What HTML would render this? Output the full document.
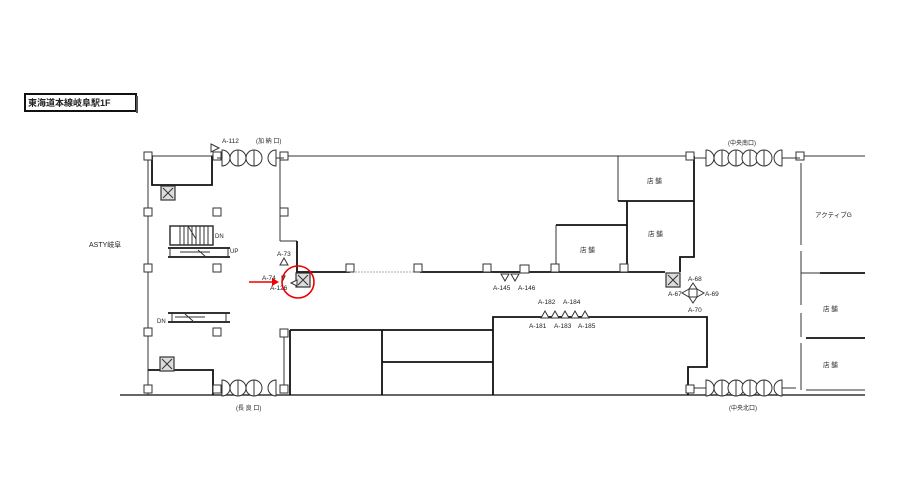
<!DOCTYPE html>
<html><head><meta charset="utf-8"><style>
html,body{margin:0;padding:0;background:#fff;}
svg{display:block;}
text{font-family:"Liberation Sans","Noto Sans CJK JP",sans-serif;fill:#222;}
</style></head><body>
<svg width="919" height="491" viewBox="0 0 919 491" xmlns="http://www.w3.org/2000/svg">
<defs>
<g id="sq"><rect x="-4" y="-4" width="8" height="8" fill="#fff" stroke="#333" stroke-width="1"/></g>
<g id="el"><rect x="-7" y="-7" width="14" height="14" fill="#ddd" stroke="#333" stroke-width="1.2"/><path d="M-5,-5L5,5M5,-5L-5,5" stroke="#333"/></g>
<g id="c"><circle r="8" fill="#fff" stroke="#333"/><line x1="0" y1="-8" x2="0" y2="8" stroke="#333"/></g>
</defs>
<rect x="25" y="94" width="111" height="17" fill="#fff" stroke="#111" stroke-width="2"/>
<line x1="137" y1="96" x2="137" y2="113" stroke="#555" stroke-width="2"/>
<text x="28" y="106" font-size="9" font-weight="bold">東海道本線岐阜駅1F</text>
<g fill="none" stroke="#333" stroke-width="1">
<line x1="148" y1="156" x2="217" y2="156"/>
<line x1="284" y1="156" x2="690" y2="156"/>
<line x1="800" y1="156" x2="865" y2="156"/>
<line x1="148" y1="156" x2="148" y2="395"/>
<line x1="120" y1="395" x2="865" y2="395" stroke-width="1.6"/>
<line x1="280" y1="156" x2="280" y2="241"/>
<line x1="280" y1="241" x2="297" y2="241"/>
<line x1="284" y1="333" x2="284" y2="388"/>
<line x1="618" y1="156" x2="618" y2="201"/>
<line x1="556" y1="225" x2="556" y2="272"/>
<line x1="801" y1="163" x2="801" y2="245"/>
<line x1="801" y1="251" x2="801" y2="305"/>
<line x1="801" y1="313" x2="801" y2="337"/>
<line x1="801" y1="343" x2="801" y2="390"/>
<line x1="801" y1="273" x2="820" y2="273"/>
<line x1="806" y1="390" x2="865" y2="390"/>
<line x1="355" y1="272" x2="415" y2="272" stroke="#aaa" stroke-dasharray="2,1"/>
</g>
<g fill="none" stroke="#111" stroke-width="1.8">
<polyline points="152,156 152,185 212,185 212,156"/>
<polyline points="148,370 213,370 213,395"/>
<polyline points="297,241 297,272 350,272"/>
<line x1="420" y1="272" x2="665" y2="272"/>
<line x1="290" y1="330" x2="493" y2="330"/>
<line x1="290" y1="330" x2="290" y2="395"/>
<polyline points="493,395 493,317 707,317 707,367 688,367 688,395"/>
<line x1="382" y1="330" x2="382" y2="395"/>
<line x1="382" y1="362" x2="493" y2="362"/>
<polyline points="694,156 694,257 680,257 680,272"/>
<line x1="618" y1="201" x2="694" y2="201"/>
<line x1="627" y1="201" x2="627" y2="272"/>
<line x1="556" y1="225" x2="627" y2="225"/>
<line x1="820" y1="273" x2="865" y2="273"/>
<line x1="806" y1="338" x2="865" y2="338"/>
</g>
<g fill="#fff" stroke="#333">
<rect x="520" y="265" width="9" height="8"/>
</g>
<use href="#sq" x="148" y="156"/><use href="#sq" x="217" y="156"/><use href="#sq" x="284" y="156"/>
<use href="#sq" x="690" y="156"/><use href="#sq" x="800" y="156"/>
<use href="#sq" x="148" y="212"/><use href="#sq" x="148" y="268"/><use href="#sq" x="148" y="332"/><use href="#sq" x="148" y="389"/>
<use href="#sq" x="217" y="212"/><use href="#sq" x="217" y="268"/><use href="#sq" x="217" y="332"/><use href="#sq" x="217" y="389"/>
<use href="#sq" x="284" y="212"/><use href="#sq" x="284" y="333"/><use href="#sq" x="284" y="389"/>
<use href="#sq" x="350" y="268"/><use href="#sq" x="418" y="268"/><use href="#sq" x="487" y="268"/>
<use href="#sq" x="555" y="268"/><use href="#sq" x="624" y="268"/>
<use href="#sq" x="690" y="389"/>
<use href="#el" x="168" y="193"/><use href="#el" x="167" y="364"/><use href="#el" x="303" y="280"/><use href="#el" x="673" y="280"/>
<g stroke="#333" fill="none">
<rect x="170" y="226" width="43" height="19" stroke-width="1.5"/>
<path d="M180,226v19M184,226v19M188,226v19M192,226v19M196,226v19M200,226v19M204,226v19M208,226v19M188,226l8,13"/>
<rect x="170" y="248" width="58" height="9" stroke-width="1"/>
<line x1="168" y1="248" x2="230" y2="248" stroke-width="2"/><line x1="168" y1="257" x2="230" y2="257" stroke-width="2"/>
<path d="M180,252h30M198,250l8,7"/>
<line x1="168" y1="313" x2="230" y2="313" stroke-width="2"/><line x1="168" y1="322" x2="230" y2="322" stroke-width="2"/>
<path d="M172,313v9M226,313v9M175,317h30M185,314l8,7"/>
</g>
<text x="215" y="238" font-size="6">DN</text>
<text x="230" y="253" font-size="6">UP</text>
<text x="157" y="323" font-size="6">DN</text>
<text x="89" y="247" font-size="7">ASTY岐阜</text>
<g stroke="#333" fill="#fff">
<path d="M222,150 a8,8 0 0 1 0,16z"/><use href="#c" x="238" y="158"/><use href="#c" x="254" y="158"/><path d="M276,150 a8,8 0 0 0 0,16z"/>
<path d="M222,380 a8,8 0 0 1 0,16z"/><use href="#c" x="238" y="388"/><use href="#c" x="254" y="388"/><path d="M276,380 a8,8 0 0 0 0,16z"/>
<path d="M706,150 a8,8 0 0 1 0,16z"/><use href="#c" x="722" y="158"/><use href="#c" x="736" y="158"/><use href="#c" x="750" y="158"/><use href="#c" x="764" y="158"/><path d="M782,150 a8,8 0 0 0 0,16z"/>
<path d="M706,380 a8,8 0 0 1 0,16z"/><use href="#c" x="722" y="388"/><use href="#c" x="736" y="388"/><use href="#c" x="750" y="388"/><use href="#c" x="764" y="388"/><path d="M782,380 a8,8 0 0 0 0,16z"/>
</g>
<g stroke="#333" fill="none">
<line x1="217" y1="158" x2="222" y2="158"/><line x1="276" y1="158" x2="284" y2="158"/>
<line x1="694" y1="158" x2="706" y2="158"/><line x1="782" y1="158" x2="800" y2="158"/>
<line x1="694" y1="388" x2="706" y2="388"/><line x1="782" y1="388" x2="796" y2="388"/>
</g>
<text x="256" y="143" font-size="6">(加 納 口)</text>
<text x="236" y="410" font-size="6">(長 良 口)</text>
<text x="728" y="145" font-size="6">(中央南口)</text>
<text x="729" y="410" font-size="6">(中央北口)</text>
<g stroke="#333" fill="#fff">
<path d="M211,144l8,4-8,4z"/>
<path d="M284,258l4,7h-8z"/>
<path d="M282,276l3,0-3,6z"/>
<path d="M291,283l6,-3v6z"/>
<path d="M501,274h8l-4,7z"/><path d="M511,274h8l-4,7z"/>
<path d="M541,318l4,-7 4,7z"/><path d="M551,318l4,-7 4,7z"/><path d="M561,318l4,-7 4,7z"/><path d="M571,318l4,-7 4,7z"/><path d="M581,318l4,-7 4,7z"/>
<rect x="689" y="289" width="8" height="8"/>
<path d="M689,289l4,-6 4,6z"/><path d="M689,297l4,6 4,-6z"/><path d="M689,289l-7,4 7,4z"/><path d="M697,289l7,4-7,4z"/>
</g>
<g font-size="6.5">
<text x="222" y="143">A-112</text>
<text x="277" y="256">A-73</text>
<text x="262" y="280">A-74</text>
<text x="270" y="290">A-126</text>
<text x="493" y="290">A-145</text>
<text x="518" y="290">A-146</text>
<text x="538" y="304">A-182</text>
<text x="563" y="304">A-184</text>
<text x="529" y="328">A-181</text>
<text x="554" y="328">A-183</text>
<text x="578" y="328">A-185</text>
<text x="688" y="281">A-68</text>
<text x="668" y="296">A-67</text>
<text x="705" y="296">A-69</text>
<text x="688" y="312">A-70</text>
</g>
<g font-size="6.5">
<text x="647" y="183">店 舗</text>
<text x="648" y="236">店 舗</text>
<text x="580" y="252">店 舗</text>
<text x="815" y="217">アクティブG</text>
<text x="823" y="311">店 舗</text>
<text x="823" y="367">店 舗</text>
</g>
<circle cx="298" cy="282" r="16" fill="none" stroke="#e00" stroke-width="1.6"/>
<line x1="249" y1="282" x2="276" y2="282" stroke="#e00" stroke-width="1.6"/>
<path d="M279,282l-7,-4v8z" fill="#e00"/>
</svg>
</body></html>
